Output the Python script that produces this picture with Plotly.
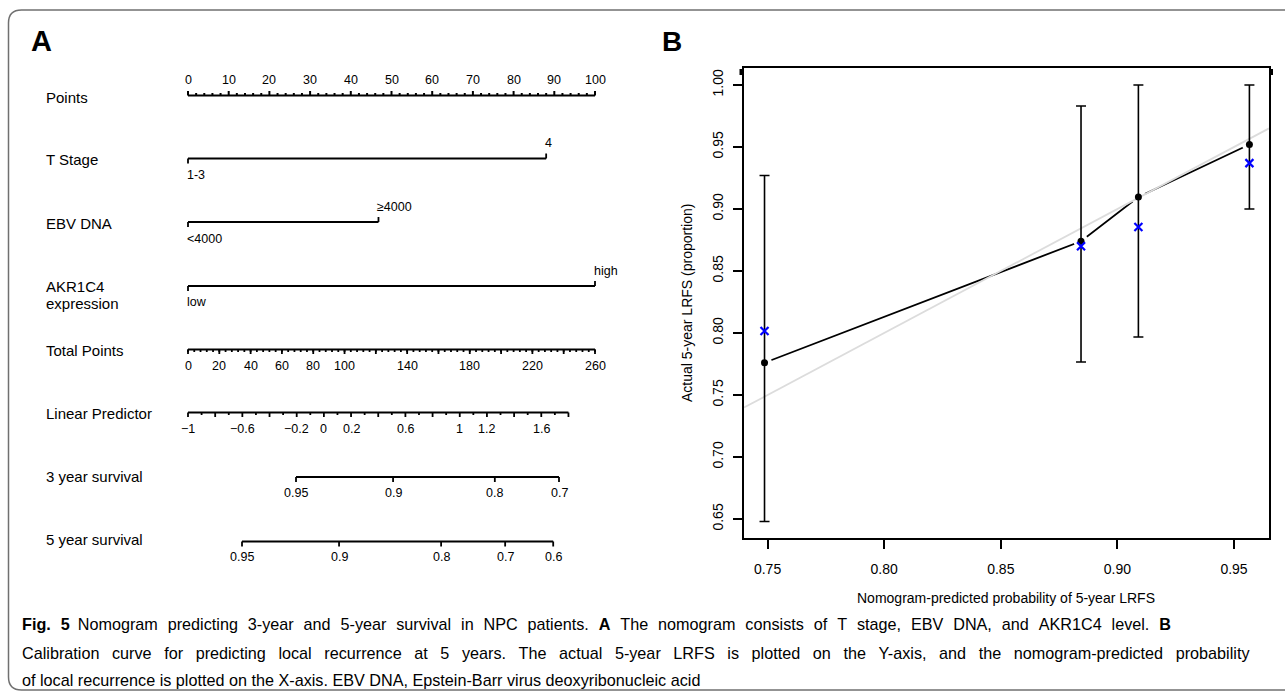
import plotly.graph_objects as go

# ------------------------------------------------------------------
# DATA
# ------------------------------------------------------------------
# Panel A : nomogram
row_labels = ["Points", "T Stage", "EBV DNA", "AKR1C4", "expression",
              "Total Points", "Linear Predictor", "3 year survival", "5 year survival"]

points_labels = [0, 10, 20, 30, 40, 50, 60, 70, 80, 90, 100]
points_minor_step = 2
POINTS_MAX = 100

t_stage_levels = ["1-3", "4"]
t_stage_points = [0, 88]

ebv_levels = ["<4000", "\u22654000"]
ebv_points = [0, 46.8]

akr_levels = ["low", "high"]
akr_points = [0, 100]

total_labels = [0, 20, 40, 60, 80, 100, 140, 180, 220, 260]
total_major_step = 20
total_minor_step = 4
TOTAL_MAX = 260

lp_labels = [-1, -0.6, -0.2, 0, 0.2, 0.6, 1, 1.2, 1.6]
LP_MIN, LP_MAX = -1.0, 1.8
lp_major_step = 0.2
lp_minor_step = 0.1
TOTAL_PER_LP = 86.8          # total points per unit of linear predictor

surv3_labels = ["0.95", "0.9", "0.8", "0.7"]
surv3_total = [69.0, 131.0, 196.0, 237.0]

surv5_labels = ["0.95", "0.9", "0.8", "0.7", "0.6"]
surv5_total = [34.5, 96.5, 161.7, 202.6, 233.3]

# Panel B : calibration
cal_pred = [0.7487, 0.8844, 0.9090, 0.9566]
cal_obs = [0.776, 0.874, 0.9097, 0.952]
cal_lo = [0.648, 0.7766, 0.7968, 0.900]
cal_hi = [0.927, 0.983, 1.000, 1.000]
cal_bc = [0.8016, 0.870, 0.8855, 0.937]
x_ticks_b = [0.75, 0.80, 0.85, 0.90, 0.95]
y_ticks_b = [0.65, 0.70, 0.75, 0.80, 0.85, 0.90, 0.95, 1.00]

caption_lines = [
    "<b>Fig. 5</b>\u2002Nomogram predicting 3-year and 5-year survival in NPC patients. <b>A</b> The nomogram consists of T stage, EBV DNA, and AKR1C4 level. <b>B</b>",
    "Calibration curve for predicting local recurrence at 5 years. The actual 5-year LRFS is plotted on the Y-axis, and the nomogram-predicted probability",
    "of local recurrence is plotted on the X-axis. EBV DNA, Epstein-Barr virus deoxyribonucleic acid",
]

# ------------------------------------------------------------------
# LAYOUT CONSTANTS
# ------------------------------------------------------------------
W, H = 1285, 697
FONT = "Liberation Sans, Arial, Helvetica, sans-serif"
X0_PX, PX_PER_PT = 188.0, 4.07          # nomogram: 0 points at 188 px
A_RIGHT_PX = 640

def PX(x):
    return x / W

def PY(y):
    return 1 - y / H

def tp_to_pts(tp):
    return tp * POINTS_MAX / TOTAL_MAX

def lp_to_pts(lp):
    return tp_to_pts((lp - LP_MIN) * TOTAL_PER_LP)

def frange(a, b, step):
    out, n = [], 0
    while a + n * step <= b + 1e-9:
        out.append(round(a + n * step, 6))
        n += 1
    return out

fig = go.Figure()
ann = []

def seg_trace(segments, width, color="black"):
    xs, ys = [], []
    for (xa, ya, xb, yb) in segments:
        xs += [xa, xb, None]
        ys += [ya, yb, None]
    fig.add_trace(go.Scatter(x=xs, y=ys, mode="lines", xaxis="x", yaxis="y",
                             line=dict(color=color, width=width),
                             hoverinfo="skip", showlegend=False))

TICK_FS = 12.5

def label(x, y, text, size=TICK_FS, xanchor="center", xshift=0):
    ann.append(dict(x=x, y=y, xref="x", yref="y", text=text, showarrow=False,
                    xanchor=xanchor, yanchor="middle", xshift=xshift,
                    font=dict(size=size, color="black", family=FONT)))

LW_MAIN = 1.8
MAJ, MIN = 4.5, 2.5

# ---------- Points ----------
yP = 95.5
segs = [(0, yP, POINTS_MAX, yP)]
for v in frange(0, POINTS_MAX, points_minor_step):
    ln = MAJ if v in points_labels else MIN
    segs.append((v, yP, v, yP - ln))
seg_trace(segs, 2.0)
for v in points_labels:
    label(v, 80, str(v))

# ---------- categorical rows ----------
def cat_row(y, levels, pts, y_above, y_below):
    segs = [(min(pts), y, max(pts), y)]
    for i, p in enumerate(pts):
        if i % 2 == 0:
            segs.append((p, y, p, y + 5))
            label(p, y_below, levels[i], xanchor="left", xshift=-3)
        else:
            segs.append((p, y, p, y - 5))
            label(p, y_above, levels[i], xanchor="left", xshift=-3)
    seg_trace(segs, LW_MAIN)

cat_row(158.5, t_stage_levels, t_stage_points, 143, 175)
cat_row(222.0, ebv_levels, ebv_points, 207, 239)
cat_row(286.0, akr_levels, akr_points, 271, 302)

# ---------- Total points ----------
yT = 349.5
segs = [(0, yT, tp_to_pts(TOTAL_MAX), yT)]
for v in frange(0, TOTAL_MAX, total_minor_step):
    segs.append((tp_to_pts(v), yT, tp_to_pts(v), yT + MIN))
for v in frange(0, TOTAL_MAX, total_major_step):
    segs.append((tp_to_pts(v), yT, tp_to_pts(v), yT + MAJ))
seg_trace(segs, 1.8)
for v in total_labels:
    label(tp_to_pts(v), 366, str(v))

# ---------- Linear predictor ----------
yL = 412.5
segs = [(lp_to_pts(LP_MIN), yL, lp_to_pts(LP_MAX), yL)]
for v in frange(LP_MIN, LP_MAX, lp_minor_step):
    k = (v - LP_MIN) / lp_major_step
    ln = MAJ if abs(k - round(k)) < 1e-6 else MIN
    segs.append((lp_to_pts(v), yL, lp_to_pts(v), yL + ln))
seg_trace(segs, 1.8)
for v in lp_labels:
    txt = ("%g" % v).replace("-", "\u2212")
    label(lp_to_pts(v), 429, txt)

# ---------- survival rows ----------
def surv_row(y, labels, totals, ylab):
    xs = [tp_to_pts(t) for t in totals]
    segs = [(min(xs), y, max(xs), y)]
    for x in xs:
        segs.append((x, y, x, y + 5))
    seg_trace(segs, LW_MAIN)
    for x, t in zip(xs, labels):
        label(x, ylab, t)

surv_row(477.0, surv3_labels, surv3_total, 493)
surv_row(541.5, surv5_labels, surv5_total, 557)

# ---------- row labels ----------
row_y = [97, 159, 223, 286, 303, 351, 413, 476, 539]
for t, y in zip(row_labels, row_y):
    ann.append(dict(x=PX(44), y=PY(y), xref="paper", yref="paper", text=t,
                    showarrow=False, xanchor="left", yanchor="middle",
                    font=dict(size=15, color="black", family=FONT)))

# ------------------------------------------------------------------
# Panel B : calibration plot
# ------------------------------------------------------------------
XR = [0.7399, 0.9650]
YR = [0.6347, 1.0137]

# connecting line (white halos give gaps around points, like R type="b")
fig.add_trace(go.Scatter(x=cal_pred, y=cal_obs, mode="lines+markers", xaxis="x2", yaxis="y2",
                         line=dict(color="black", width=1.8),
                         marker=dict(size=15, color="white", line=dict(width=0)),
                         hoverinfo="skip", showlegend=False))
# ideal line
fig.add_trace(go.Scatter(x=XR, y=XR, mode="lines", xaxis="x2", yaxis="y2",
                         line=dict(color="#dcdcdc", width=1.8),
                         hoverinfo="skip", showlegend=False))
# error bars + observed
fig.add_trace(go.Scatter(x=cal_pred, y=cal_obs, mode="markers", xaxis="x2", yaxis="y2",
                         marker=dict(size=7, color="black"),
                         error_y=dict(type="data", symmetric=False,
                                      array=[h - o for h, o in zip(cal_hi, cal_obs)],
                                      arrayminus=[o - l for o, l in zip(cal_obs, cal_lo)],
                                      color="black", thickness=1.6, width=5),
                         hoverinfo="skip", showlegend=False))
# bias-corrected
fig.add_trace(go.Scatter(x=cal_pred, y=cal_bc, mode="markers", xaxis="x2", yaxis="y2",
                         marker=dict(symbol="x-thin", size=8, color="blue",
                                     line=dict(color="blue", width=2.2)),
                         hoverinfo="skip", showlegend=False))

axis_font = dict(size=14, color="black", family=FONT)

fig.update_layout(
    width=W, height=H,
    margin=dict(l=0, r=0, t=0, b=0),
    paper_bgcolor="white", plot_bgcolor="white",
    showlegend=False,
    xaxis=dict(domain=[0, PX(A_RIGHT_PX)],
               range=[(0 - X0_PX) / PX_PER_PT, (A_RIGHT_PX - X0_PX) / PX_PER_PT],
               visible=False, fixedrange=True),
    yaxis=dict(domain=[0, 1], range=[H, 0], visible=False, fixedrange=True),
    xaxis2=dict(domain=[PX(744), PX(1269)], range=XR, anchor="y2",
                tickvals=x_ticks_b, tickformat=".2f", ticks="outside", ticklen=9,
                tickwidth=1.5, tickcolor="black", showline=True, mirror=True,
                linecolor="black", linewidth=1.6, showgrid=False, zeroline=False,
                tickfont=axis_font, ticklabelstandoff=8),
    yaxis2=dict(domain=[PY(538), PY(68)], range=YR, anchor="x2",
                tickvals=y_ticks_b, tickformat=".2f", ticks="outside", ticklen=9,
                tickwidth=1.5, tickcolor="black", showline=True, mirror=True,
                linecolor="black", linewidth=1.6, showgrid=False, zeroline=False,
                tickangle=-90, tickfont=axis_font, ticklabelstandoff=5),
)

# axis titles and panel letters
ann.append(dict(x=PX(1006), y=PY(598), xref="paper", yref="paper",
                text="Nomogram-predicted probability of 5-year LRFS", showarrow=False,
                xanchor="center", yanchor="middle", font=axis_font))
ann.append(dict(x=PX(687), y=PY(303), xref="paper", yref="paper",
                text="Actual 5-year LRFS (proportion)", showarrow=False, textangle=-90,
                xanchor="center", yanchor="middle", font=axis_font))
ann.append(dict(x=PX(29), y=PY(41), xref="paper", yref="paper", text="<b>A</b>",
                showarrow=False, xanchor="left", yanchor="middle",
                font=dict(size=29, color="black", family=FONT)))
ann.append(dict(x=PX(660), y=PY(41), xref="paper", yref="paper", text="<b>B</b>",
                showarrow=False, xanchor="left", yanchor="middle",
                font=dict(size=28, color="black", family=FONT)))

# caption (first two lines justified by widening the word gaps)
gap_fill = ["\u00a0\u2004", "\u00a0\u2002", " "]
for t, y, g in zip(caption_lines, [624, 653, 680], gap_fill):
    ann.append(dict(x=PX(20), y=PY(y), xref="paper", yref="paper", text=t.replace(" ", g) if g != " " else t,
                    showarrow=False, xanchor="left", yanchor="middle",
                    font=dict(size=16.2, color="black", family=FONT)))

fig.update_layout(annotations=ann)

# frame (rounded on the left, running off the right edge)
r = 13
x_l, y_t, y_b, x_r = 8.5, 10, 690, 1300
path = (f"M {PX(x_r)},{PY(y_t)} L {PX(x_l + r)},{PY(y_t)} "
        f"Q {PX(x_l)},{PY(y_t)} {PX(x_l)},{PY(y_t + r)} "
        f"L {PX(x_l)},{PY(y_b - r)} Q {PX(x_l)},{PY(y_b)} {PX(x_l + r)},{PY(y_b)} "
        f"L {PX(x_r)},{PY(y_b)}")
shapes = [dict(type="path", path=path, xref="paper", yref="paper",
               line=dict(color="#707070", width=1.5))]
# small heavy marks at the top corners of the calibration box
for xa, xb in [(739.5, 744), (1269, 1273)]:
    shapes.append(dict(type="rect", xref="paper", yref="paper",
                       x0=PX(xa), x1=PX(xb), y0=PY(75), y1=PY(69),
                       fillcolor="black", line=dict(width=0)))
fig.update_layout(shapes=shapes)

fig.write_html("out.html", config={"displayModeBar": False},
               post_script="document.body.style.margin='0';document.body.style.overflow='hidden';")
